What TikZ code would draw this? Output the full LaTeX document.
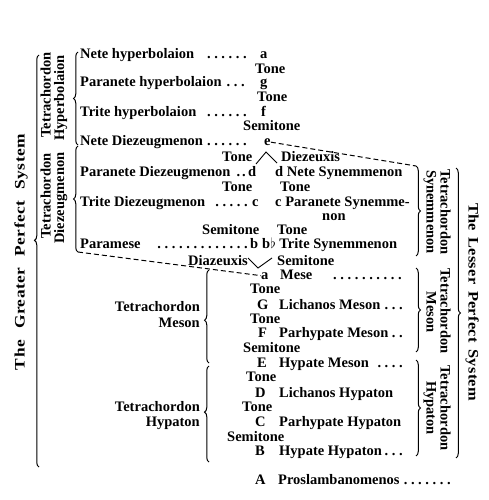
\documentclass[tikz,border=0pt]{standalone}
\usepackage{fontspec}
\setmainfont{Liberation Serif}
\newfontfamily\widefont[FakeStretch=1.2,LetterSpace=3]{Liberation Serif}
\newfontfamily\wideb[FakeStretch=1.13,LetterSpace=2]{Liberation Serif}
\usetikzlibrary{decorations.pathreplacing}
\newcommand\fs{\fontsize{14.5}{15}\selectfont\bfseries}
\newcommand\dd{\kern3.6pt.}
\begin{document}
\begin{tikzpicture}[x=1pt,y=-1pt,
  every node/.style={inner sep=0pt,font=\fs},
  t/.style={anchor=base west},
  te/.style={anchor=base east},
  rl/.style={anchor=base,rotate=90},
  rr/.style={anchor=base,rotate=-90},
  br/.style={decorate,decoration={brace,amplitude=4.5pt,aspect=#1},line width=1pt},
  br/.default=0.5,
  dsh/.style={line width=1pt,dash pattern=on 5pt off 3pt},
  vln/.style={line width=0.9pt}]
\useasboundingbox (0,0) rectangle (488,500);
% ---- left column names
\node[t] (n1) at (80,59) {Nete hyperbolaion};
\node[te] (p1) at (247,59) {\dd\dd\dd\dd\dd\dd};
\node[t] (a1) at (260,59) {a};
\node[t] (t2) at (255,74) {Tone};
\node[t] (n3) at (80,87) {Paranete hyperbolaion};
\node[te] (p3) at (245,87) {\dd\dd\dd};
\node[t] (g3) at (260,87) {g};
\node[t] (t4) at (257,102) {Tone};
\node[t] (n5) at (80,116.5) {Trite hyperbolaion};
\node[te] (p5) at (247,116.5) {\dd\dd\dd\dd\dd\dd};
\node[t] (f5) at (261,116.5) {f};
\node[t] (t6) at (243,131) {Semitone};
\node[t] (n7) at (80,145.5) {Nete Diezeugmenon};
\node[te] (p7) at (247,145.5) {\dd\dd\dd\dd\dd\dd};
\node[t] (e7) at (264,145.5) {e};
\node[t] (t8) at (222,161) {Tone};
\node[t] (dz8) at (281,161) {Diezeuxis};
\node[t] (n9) at (80,176) {Paranete Diezeugmenon};
\node[te] (p9) at (246,176) {.\kern2pt.};
\node[t] (d9) at (248,176) {d};
\node[t] (s9) at (275,176) {d Nete Synemmenon};
\node[t] (t10) at (222,191) {Tone};
\node[t] (u10) at (280,191) {Tone};
\node[t] (n11) at (80,206) {Trite Diezeugmenon};
\node[te] (p11) at (248,206) {\dd\dd\dd\dd\dd};
\node[t] (c11) at (252,206) {c};
\node[t] (s11) at (275,206) {c Paranete Synemme-};
\node[t] (s12) at (322,220) {non};
\node[t] (t13) at (202,234) {Semitone};
\node[t] (u13) at (277,234) {Tone};
\node[t] (n14) at (80,248) {Paramese};
\node[te] (p14) at (248,248) {\dd\dd\dd\dd\dd\dd\dd\dd\dd\dd\dd\dd\dd};
\node[t] (b14) at (250,248) {b};
\node[t] (s14) at (262,248) {b$\flat$ Trite Synemmenon};
\node[t] (dz15) at (188,265) {Diazeuxis};
\node[t] (u15) at (277,265) {Semitone};
% ---- lower column
\node[t] (a16) at (261,279) {a};
\node[t] (m16) at (280,279) {Mese};
\node[te] (q16) at (402,279) {\dd\dd\dd\dd\dd\dd\dd\dd\dd\dd};
\node[t] (t17) at (250,293) {Tone};
\node[t] (g18) at (257,309) {G};
\node[t] (m18) at (279,309) {Lichanos Meson};
\node[te] (q18) at (403,309) {\dd\dd\dd};
\node[t] (t19) at (250,323) {Tone};
\node[t] (f20) at (258,337) {F};
\node[t] (m20) at (279,337) {Parhypate Meson};
\node[te] (q20) at (403,337) {\dd\dd};
\node[t] (t21) at (243,352) {Semitone};
\node[t] (e22) at (257,367) {E};
\node[t] (m22) at (279,367) {Hypate Meson};
\node[te] (q22) at (403,367) {\dd\dd\dd\dd};
\node[t] (t23) at (246,381) {Tone};
\node[t] (d24) at (255,397) {D};
\node[t] (m24) at (279,397) {Lichanos Hypaton};
\node[t] (t25) at (242,411) {Tone};
\node[t] (c26) at (255,426) {C};
\node[t] (m26) at (279,426) {Parhypate Hypaton};
\node[t] (t27) at (227,441) {Semitone};
\node[t] (b28) at (255,455) {B};
\node[t] (m28) at (279,455) {Hypate Hypaton};
\node[te] (q28) at (403,455) {\dd\dd\dd};
\node[t] (a29) at (255,484) {A};
\node[t] (m29) at (278,484) {Proslambanomenos};
\node[t] (q29) at (400,484) {\dd\dd\dd\dd\dd\dd\dd};
% ---- left side labels
\node[te] (lm1) at (200,311) {Tetrachordon};
\node[te] (lm2) at (200,327) {Meson};
\node[te] (lh1) at (200,411) {Tetrachordon};
\node[te] (lh2) at (200,426) {Hypaton};
\node[rl] (gps) at (24.5,252) {\widefont\bfseries\makebox[236pt][s]{The Greater Perfect System}};
\node[rl] (th1) at (50.5,95) {Tetrachordon};
\node[rl] (th2) at (64,98) {Hyperbolaion};
\node[rl] (td1) at (50.5,196) {Tetrachordon};
\node[rl] (td2) at (64,198) {Diezeugmenon};
% ---- right side labels
\node[rr] (rs1) at (440.5,212) {Tetrachordon};
\node[rr] (rs2) at (426.5,212) {Synemmenon};
\node[rr] (rm1) at (440.5,311) {Tetrachordon};
\node[rr] (rm2) at (426.5,312) {Meson};
\node[rr] (rh1) at (440.5,408) {Tetrachordon};
\node[rr] (rh2) at (426.5,408) {Hypaton};
\node[rr] (lps) at (468.5,302) {\wideb\bfseries\makebox[198pt][s]{The Lesser Perfect System}};
% ---- brace coordinates
\coordinate (gT) at (39,55);   \coordinate (gB) at (39,467);
\coordinate (hT) at (78,52);   \coordinate (hB) at (78,145);
\coordinate (dT) at (78,146);  \coordinate (dB) at (78,252);
\coordinate (lmT) at (209,270); \coordinate (lmB) at (209,363);
\coordinate (lhT) at (209,366); \coordinate (lhB) at (209,462);
\coordinate (rsT) at (416,166); \coordinate (rsB) at (416,256);
\coordinate (rmT) at (416,268); \coordinate (rmB) at (416,352);
\coordinate (rhT) at (416,360); \coordinate (rhB) at (416,456);
\coordinate (lpT) at (456,168); \coordinate (lpB) at (456,458);
\draw[br=0.55] (gB) -- (gT);
\draw[br] (hB) -- (hT);
\draw[br] (dB) -- (dT);
\draw[br=0.46] (lmB) -- (lmT);
\draw[br=0.52] (lhB) -- (lhT);
\draw[br] (rsT) -- (rsB);
\draw[br] (rmT) -- (rmB);
\draw[br] (rhT) -- (rhB);
\draw[br] (lpT) -- (lpB);
% ---- dashed connections
\draw[dsh] (e7.east) -- (rsT);
\draw[dsh] (dB) -- (a16.west);
% ---- carets
\coordinate (v1l) at (256,164); \coordinate (v1t) at (266,152); \coordinate (v1r) at (277,163);
\draw[vln] (v1l) -- (v1t) -- (v1r);
\coordinate (v2l) at (248,258); \coordinate (v2b) at (258,268); \coordinate (v2r) at (272,258);
\draw[vln] (v2l) -- (v2b) -- (v2r);
\end{tikzpicture}
\end{document}
